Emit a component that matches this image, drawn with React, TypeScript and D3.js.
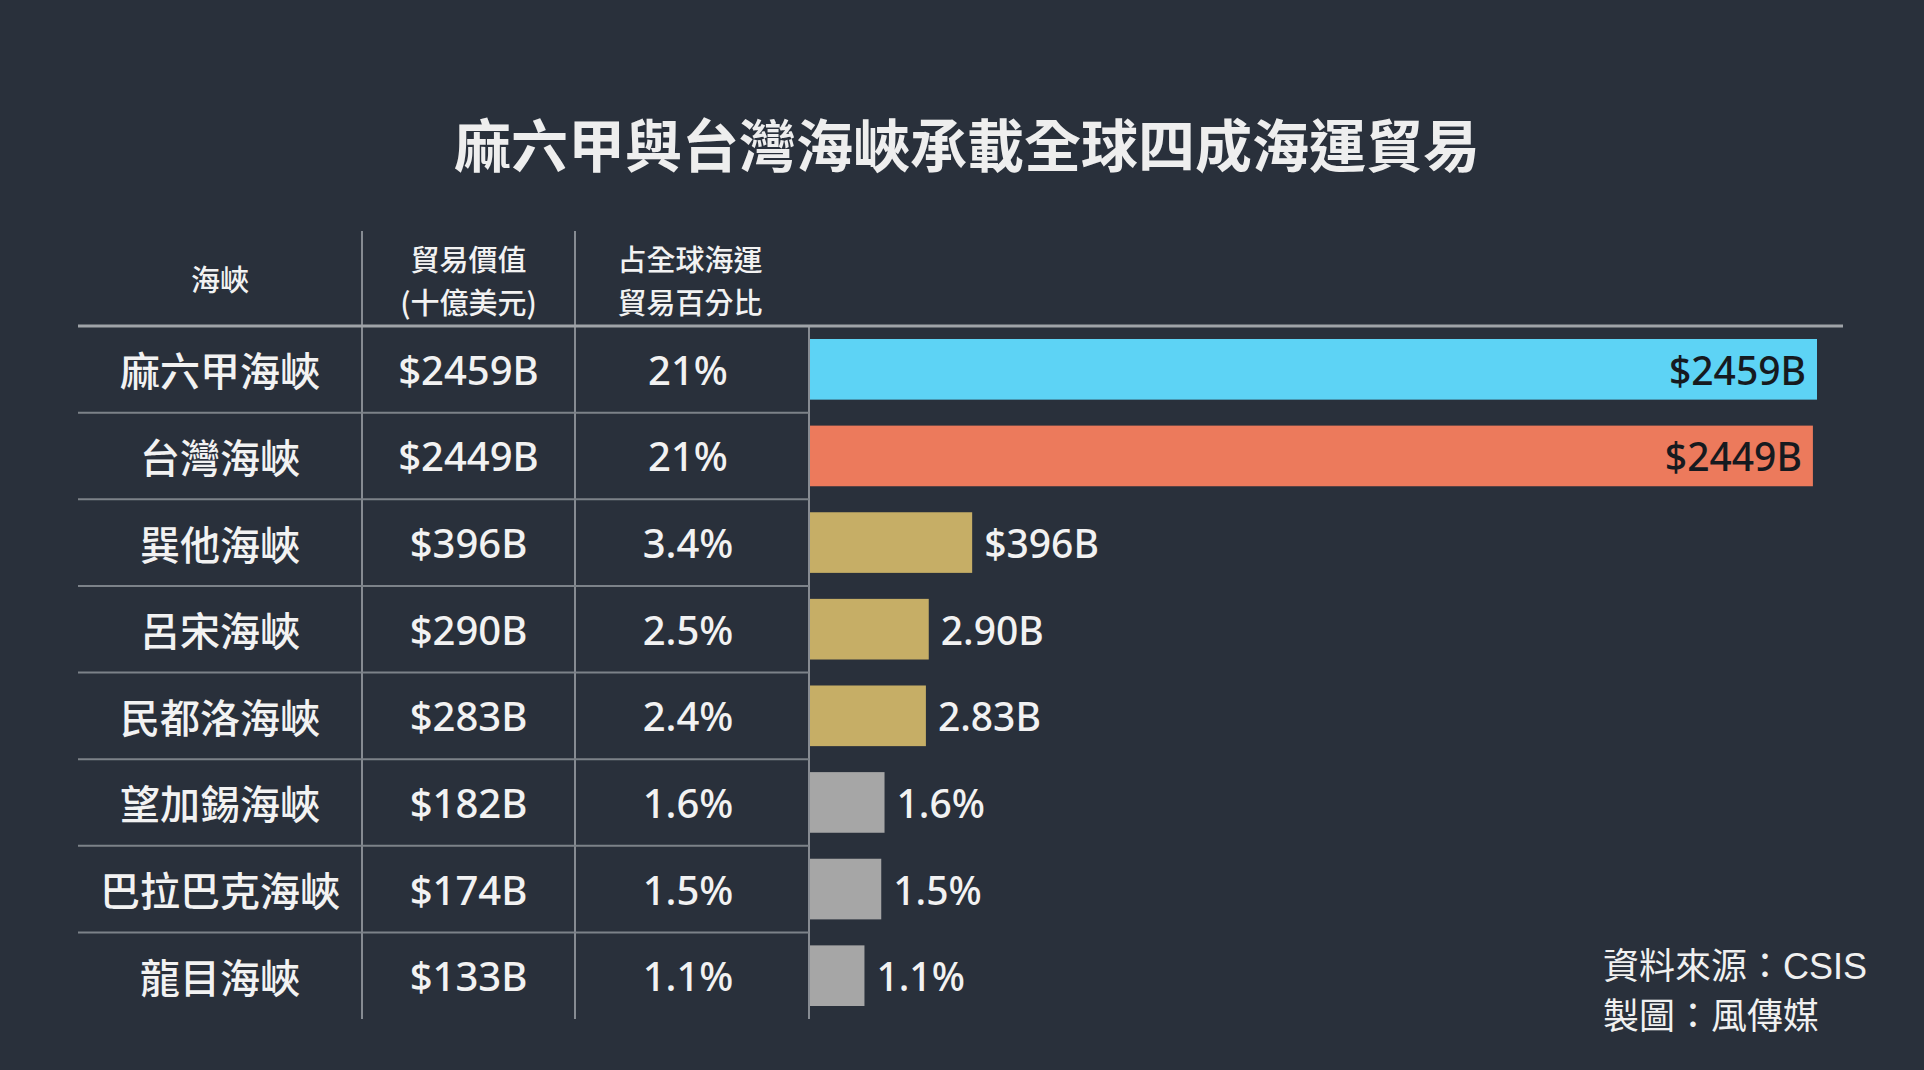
import React from "react";
import * as d3 from "d3";

// Strait names, trade value (billion USD), share of global maritime trade
const straits = ["麻六甲海峽", "台灣海峽", "巽他海峽", "呂宋海峽", "民都洛海峽", "望加錫海峽", "巴拉巴克海峽", "龍目海峽"];
const tradeValues = [2459, 2449, 396, 290, 283, 182, 174, 133];
const valueLabels = ["$2459B", "$2449B", "$396B", "$290B", "$283B", "$182B", "$174B", "$133B"];
const shareLabels = ["21%", "21%", "3.4%", "2.5%", "2.4%", "1.6%", "1.5%", "1.1%"];
const barLabels = ["$2459B", "$2449B", "$396B", "2.90B", "2.83B", "1.6%", "1.5%", "1.1%"];
const barColors = ["#5dd3f5", "#ec7a5c", "#c6ae66", "#c6ae66", "#c6ae66", "#a6a6a6", "#a6a6a6", "#a6a6a6"];
const insideLabel = [true, true, false, false, false, false, false, false];

const W = 1924;
const H = 1070;
const BG = "#29303b";
const LATIN_CJK = "'Noto Sans', 'Noto Sans CJK TC', sans-serif";
const CJK = "'Noto Sans CJK TC', sans-serif";

export default function App() {
  const tableLeft = 78;
  const colEdges = [tableLeft, 362, 575, 809];
  const headerTop = 231;
  const rowsTop = 326;
  const rowsBottom = 1019;
  const rightEdge = 1843;

  const rowScale = d3.scaleBand<string>().domain(straits).range([rowsTop, rowsBottom]);
  const barScale = d3
    .scaleBand<string>()
    .domain(straits)
    .range([rowsTop, rowsBottom])
    .paddingInner(0.3)
    .paddingOuter(0.15);
  const x = d3.scaleLinear().domain([0, 2459]).range([colEdges[3] + 1, 1817]);

  const colCenter = (i: number) => (colEdges[i] + colEdges[i + 1]) / 2;
  const textColor = "#f2f2f2";

  return (
    <svg
      width={W}
      height={H}
      viewBox={`0 0 ${W} ${H}`}
      style={{ position: "absolute", left: 0, top: 0, display: "block" }}
    >
      <rect x={0} y={0} width={W} height={H} fill={BG} />

      {/* Title */}
      <text
        x={W / 2 + 5}
        y={142}
        textAnchor="middle"
        dominantBaseline="central"
        fontFamily={CJK}
        fontWeight={700}
        fontSize={57}
        fill="#eeeeee"
      >
        麻六甲與台灣海峽承載全球四成海運貿易
      </text>

      {/* Column headers */}
      <g fontFamily={CJK} fontWeight={500} fontSize={29} fill={textColor} textAnchor="middle">
        <text x={colCenter(0)} y={278} dominantBaseline="central">海峽</text>
        <text x={colCenter(1)} y={258} dominantBaseline="central">貿易價值</text>
        <text x={colCenter(1)} y={301} dominantBaseline="central">(十億美元)</text>
        <text x={colCenter(2) - 2} y={258} dominantBaseline="central">占全球海運</text>
        <text x={colCenter(2) - 2} y={301} dominantBaseline="central">貿易百分比</text>
      </g>

      {/* Table grid */}
      <g>
        {[colEdges[1], colEdges[2]].map((cx) => (
          <line key={cx} x1={cx} x2={cx} y1={headerTop} y2={rowsBottom} stroke="#868b92" strokeWidth={2} />
        ))}
        <line x1={colEdges[3]} x2={colEdges[3]} y1={rowsTop} y2={rowsBottom} stroke="#868b92" strokeWidth={2} />
        {straits.slice(1).map((s) => (
          <line
            key={s}
            x1={tableLeft}
            x2={colEdges[3]}
            y1={rowScale(s)!}
            y2={rowScale(s)!}
            stroke="#7c8289"
            strokeWidth={2}
          />
        ))}
        <line x1={tableLeft} x2={rightEdge} y1={rowsTop} y2={rowsTop} stroke="#9fa3a8" strokeWidth={3} />
      </g>

      {/* Table cells */}
      <g fill={textColor} textAnchor="middle">
        {straits.map((s, i) => {
          const cy = rowScale(s)! + rowScale.bandwidth() / 2;
          return (
            <g key={s}>
              <text x={colCenter(0)} y={cy} dominantBaseline="central" fontFamily={CJK} fontWeight={500} fontSize={40}>
                {s}
              </text>
              <text x={colCenter(1)} y={cy} dominantBaseline="central" fontFamily={LATIN_CJK} fontWeight={500} fontSize={40}>
                {valueLabels[i]}
              </text>
              <text x={colCenter(2) - 4} y={cy} dominantBaseline="central" fontFamily={LATIN_CJK} fontWeight={500} fontSize={40}>
                {shareLabels[i]}
              </text>
            </g>
          );
        })}
      </g>

      {/* Bars */}
      <g>
        {straits.map((s, i) => {
          const y0 = barScale(s)!;
          const bh = barScale.bandwidth();
          const x1 = x(tradeValues[i]);
          const cy = y0 + bh / 2;
          return (
            <g key={s}>
              <rect x={x(0)} y={y0} width={x1 - x(0)} height={bh} fill={barColors[i]} />
              {insideLabel[i] ? (
                <text
                  x={x1 - 11}
                  y={cy}
                  textAnchor="end"
                  dominantBaseline="central"
                  fontFamily={LATIN_CJK}
                  fontWeight={500}
                  fontSize={39}
                  fill="#161a1f"
                >
                  {barLabels[i]}
                </text>
              ) : (
                <text
                  x={x1 + 12}
                  y={cy}
                  textAnchor="start"
                  dominantBaseline="central"
                  fontFamily={LATIN_CJK}
                  fontWeight={500}
                  fontSize={39}
                  fill={textColor}
                >
                  {barLabels[i]}
                </text>
              )}
            </g>
          );
        })}
      </g>

      {/* Source note */}
      <g fontFamily="'Liberation Sans', 'Noto Sans CJK TC', sans-serif" fontSize={36} fontWeight={400} fill="#f0f0f0">
        <text x={1603} y={966} dominantBaseline="central">資料來源：CSIS</text>
        <text x={1603} y={1016} dominantBaseline="central">製圖：風傳媒</text>
      </g>
    </svg>
  );
}
